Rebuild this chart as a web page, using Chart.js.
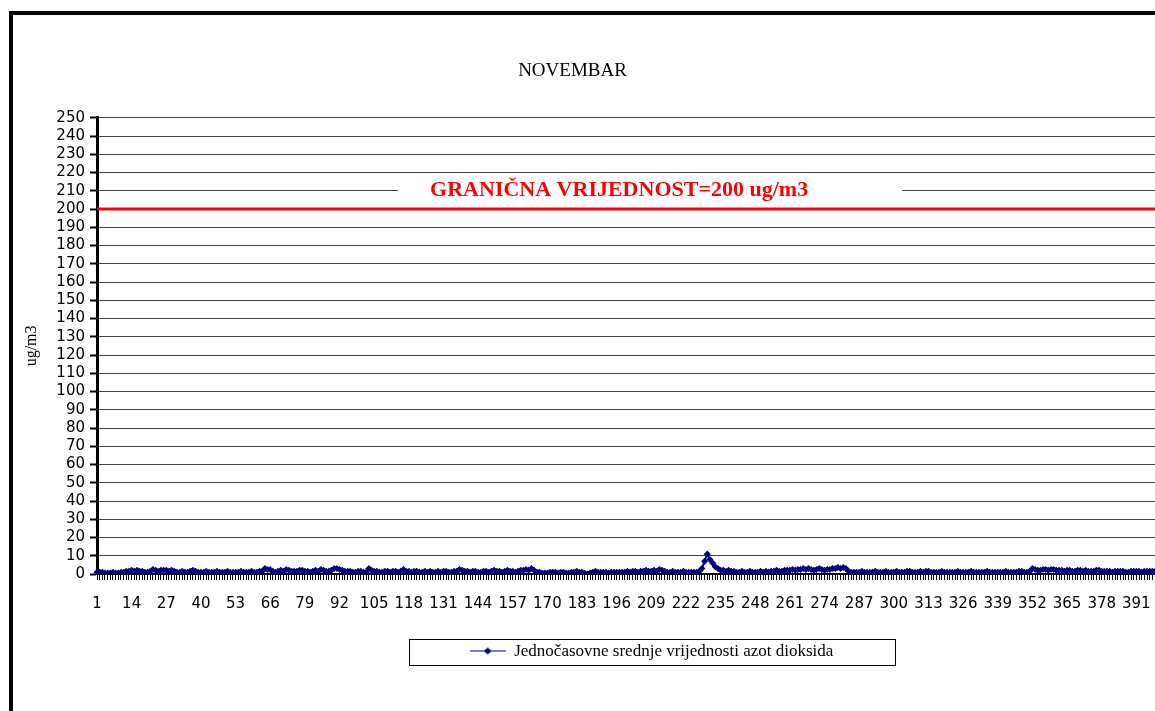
<!DOCTYPE html>
<html>
<head>
<meta charset="utf-8">
<script src="https://cdn.jsdelivr.net/npm/chart.js@4/dist/chart.umd.min.js"></script>
<style>
  html, body { margin: 0; padding: 0; background: #fff; }
  #wrap { width: 1155px; height: 711px; }
</style>
</head>
<body>
<div id="wrap"><canvas id="no2Chart" width="1155" height="711"></canvas></div>
<script>
const TITLE = 'NOVEMBAR';
const SERIES_NAME = 'Jednočasovne srednje vrijednosti azot dioksida';
const Y_TITLE = 'ug/m3';
const LIMIT = 200;
const LIMIT_LABEL = 'GRANIČNA VRIJEDNOST=200 ug/m3';
const Y_MIN = 0, Y_MAX = 250, Y_STEP = 10;
const LABEL_EVERY = 13;

// hourly values (hours 1..398, rest of the month is cut off)
const NO2_VALUES = [
  1,1,1,0.5,0.5,0.5,1,0.5,0.5,1,1,1.5,1.5,
  2,1.5,2,1.5,1.5,1,1,1.5,2.5,2,1.5,2,2,
  2,1.5,2,1.5,1,1,1.5,1,1,1.5,2,1.5,1,
  1,1,1.5,1,1,1,1.5,1,1,1,1.5,1,1,
  1,1,1.5,1,1,1,1.5,1,1,1.5,1.5,3,2.5,
  2.5,1.5,1,1.5,2,1.5,2.5,2,1.5,1.5,1.5,2,2,
  1.5,1.5,1,1.5,2,1.5,2.5,2,1.5,1.5,2,3,3,
  2.5,2,1.5,1.5,1.5,1,1,1.5,1.5,1,1,3,2,
  1.5,1.5,1,1,1.5,1.5,1,1.5,1.5,1,1.5,2.5,1.5,
  1.5,1,1.5,1.5,1,1,1.5,1,1.5,1,1,1.5,1,
  1.5,1.5,1,1,1.5,1.5,2.5,2,1.5,1.5,1,1.5,1.5,
  1,1,1.5,1.5,1,1.5,2,1.5,1.5,1,1.5,2,1.5,
  1.5,1,1.5,2,2,2.5,2,3,2,1,1,0.5,0.5,
  0.5,1,1,1,0.5,1,1,0.5,0.5,1,1,1.5,1,
  1,0.5,0,0.5,1,1.5,1,1,1,1,0.5,1,1,
  1,1,1,1,1.5,1,1.5,1.5,1,1.5,1.5,2,1.5,
  1.5,2,1.5,2.5,2,1.5,1,1,1.5,1,1,1,1.5,
  1,1,1,1,1,1.5,3,7,11,8,6,4,3,
  2,2,1.5,2,1.5,1.5,1,1,1.5,1,1,1.5,1,
  1,1,1.5,1,1.5,1,1.5,1.5,2,1.5,1.5,2,2,
  2,2.5,2,2.5,2.5,3,2.5,3,2.5,2,2.5,3,2.5,
  2,2.5,2.5,3,3,3.5,3,3.5,3,1.5,1,1,1,
  1,1.5,1,1,1,1,1.5,1,1,1,1.5,1,1,
  1,1.5,1,1,1,1.5,1.5,1,1,1,1.5,1,1.5,
  1.5,1,1,1,1,1.5,1,1,1,1,1,1.5,1,
  1,1,1,1.5,1,1,1,1,1,1.5,1,1,1,
  1,1,1,1.5,1,1,1,1,1.5,1.5,1,1,1.5,
  3,2.5,2,2,2.5,2.5,2,2.5,2.5,2,2,2,1.5,
  2,2,1.5,1.5,2,2,1.5,2,1.5,1.5,1.5,2,2,
  1.5,1.5,1.5,1.5,1,1.5,1.5,1.5,1.5,1,1,1.5,1.5,
  1.5,1.5,1,1.5,1.5,1.5,1.5,1.5
];
const HOURS = NO2_VALUES.map((v, i) => String(i + 1));

const NAVY = '#000080';

// legend marker: short line with a diamond
const legendMark = document.createElement('canvas');
legendMark.width = 36; legendMark.height = 10;
(function () {
  const c = legendMark.getContext('2d');
  c.fillStyle = NAVY;
  c.fillRect(0, 4, 36, 1);
  c.beginPath(); c.moveTo(18, 1); c.lineTo(22, 4.5); c.lineTo(18, 8); c.lineTo(14, 4.5); c.closePath(); c.fill();
})();

const extras = {
  id: 'extras',
  afterLayout(chart) {
    // title and legend sit a bit off the canvas centre in the original
    const t = chart.titleBlock;
    if (t) { t.left -= 12; t.right -= 12; }
    const lg = chart.legend;
    if (lg) { lg.left += 67; lg.right += 67; }
  },
  beforeDatasetsDraw(chart) {
    const { ctx, chartArea, scales } = chart;
    const y = scales.y;
    const yl = y.getPixelForValue(LIMIT);
    ctx.save();
    // limit line
    ctx.strokeStyle = '#ff0000';
    ctx.lineWidth = 3;
    ctx.beginPath();
    ctx.moveTo(chartArea.left, yl);
    ctx.lineTo(chartArea.right, yl);
    ctx.stroke();
    // label box
    const w = chartArea.right - chartArea.left;
    const y1 = y.getPixelForValue(216), y2 = y.getPixelForValue(204.5);
    ctx.fillStyle = '#fff';
    ctx.fillRect(chartArea.left + w * 0.2845, y1, w * 0.4765, y2 - y1);
    ctx.fillStyle = '#ff0000';
    ctx.font = 'bold 22px "Liberation Serif"';
    ctx.textAlign = 'center';
    ctx.textBaseline = 'middle';
    ctx.fillText(LIMIT_LABEL, chartArea.left + w * 0.4935, y.getPixelForValue(210));
    ctx.restore();
  },
  afterDraw(chart) {
    const { ctx } = chart;
    ctx.save();
    // outer frame (left and top edges visible)
    ctx.fillStyle = '#000';
    ctx.fillRect(9, 11, 4, 700);
    ctx.fillRect(9, 11, 1146, 4);
    // legend box
    const lg = chart.legend;
    if (lg) {
      const cx = lg.left + lg.width / 2;
      const cy = lg.legendHitBoxes.length ? lg.legendHitBoxes[0].top + lg.legendHitBoxes[0].height / 2 : lg.top + lg.height / 2;
      ctx.strokeStyle = '#000';
      ctx.lineWidth = 1;
      ctx.strokeRect(Math.round(cx - 243) + 0.5, Math.round(cy - 13) + 0.5, 486, 26);
    }
    ctx.restore();
  }
};

new Chart(document.getElementById('no2Chart'), {
  type: 'line',
  data: {
    labels: HOURS,
    datasets: [{
      label: SERIES_NAME,
      data: NO2_VALUES,
      borderColor: NAVY,
      backgroundColor: NAVY,
      borderWidth: 2,
      pointStyle: 'rectRot',
      pointRadius: 3.5,
      pointBorderWidth: 0,
      tension: 0
    }]
  },
  options: {
    responsive: false,
    animation: false,
    layout: { autoPadding: false, padding: { left: 14, top: 20, right: 0, bottom: 41 } },
    plugins: {
      title: {
        display: true,
        text: TITLE,
        color: '#000',
        font: { family: 'Liberation Serif', size: 19, weight: 'normal' },
        padding: { top: 40, bottom: 35 }
      },
      legend: {
        position: 'bottom',
        labels: {
          color: '#000',
          font: { family: 'Liberation Serif', size: 17 },
          usePointStyle: true,
          pointStyleWidth: 36,
          boxHeight: 10,
          padding: 15,
          generateLabels: (chart) => [{
            text: SERIES_NAME,
            pointStyle: legendMark,
            fillStyle: NAVY,
            strokeStyle: NAVY,
            lineWidth: 0,
            datasetIndex: 0
          }]
        }
      },
      tooltip: { enabled: false }
    },
    scales: {
      x: {
        offset: false,
        afterFit: (scale) => { scale.paddingLeft = 0; scale.paddingRight = 0; },
        grid: {
          drawOnChartArea: false,
          drawTicks: true,
          tickLength: 6,
          tickColor: '#000',
          tickWidth: 1
        },
        border: { color: '#000', width: 2 },
        ticks: {
          autoSkip: false,
          maxRotation: 0,
          minRotation: 0,
          padding: 15,
          color: '#000',
          font: { family: 'DejaVu Sans', size: 15 },
          callback: (val, idx) => idx % LABEL_EVERY === 0 ? HOURS[idx] : ''
        }
      },
      y: {
        min: Y_MIN,
        max: Y_MAX,
        afterFit: (scale) => { scale.width = 83; },
        grid: {
          color: '#404040',
          lineWidth: 1,
          tickLength: 7,
          tickColor: '#000',
          tickWidth: 2
        },
        border: { color: '#000', width: 3 },
        ticks: {
          stepSize: Y_STEP,
          autoSkip: false,
          padding: 5,
          color: '#000',
          font: { family: 'DejaVu Sans', size: 15 }
        },
        title: {
          display: true,
          text: Y_TITLE,
          color: '#000',
          font: { family: 'Liberation Serif', size: 16 },
          padding: { top: 8, bottom: 0 }
        }
      }
    }
  },
  plugins: [extras]
});
</script>
</body>
</html>
